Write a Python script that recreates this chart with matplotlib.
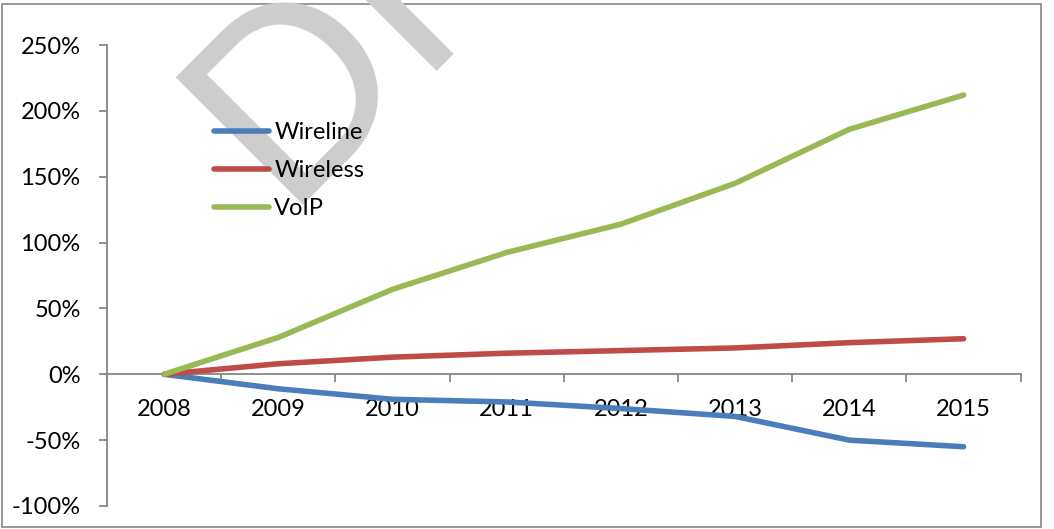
import numpy as np
import matplotlib.pyplot as plt
from matplotlib.patches import Rectangle
from matplotlib.ticker import FuncFormatter, FixedLocator

plt.rcParams['font.family'] = ['Lato', 'DejaVu Sans']

# values (growth vs 2008)
years = ['2008', '2009', '2010', '2011', '2012', '2013', '2014', '2015']
wireline = [0, -0.11, -0.19, -0.21, -0.26, -0.32, -0.50, -0.55]
wireless = [0, 0.08, 0.13, 0.16, 0.18, 0.20, 0.24, 0.27]
voip = [0, 0.28, 0.645, 0.925, 1.14, 1.45, 1.86, 2.12]
y_ticks = [-1.0, -0.5, 0.0, 0.5, 1.0, 1.5, 2.0, 2.5]

COLORS = {
    'Wireline': '#4A7EBB',
    'Wireless': '#BE4B48',
    'VoIP': '#98B954',
}
AXIS_GREY = '#868686'
FS = 17

W, H = 1054, 529
fig = plt.figure(figsize=(W / 100, H / 100), dpi=100)
ax = fig.add_axes([107 / W, 1 - 506 / H, (1020.7 - 107) / W, (506 - 45) / H])
ax.patch.set_alpha(0)

# watermark behind everything
fig.text(280 / W, 1 - 205 / H, 'DRAFT', fontsize=180, color='#cdcdcd',
         rotation=45, rotation_mode='anchor', ha='left', va='baseline',
         zorder=-5)

# chart area border
fig.patches.append(Rectangle((2 / W, 1 - 527 / H), (1041 - 2) / W, (527 - 4) / H,
                             transform=fig.transFigure, fill=False,
                             edgecolor=AXIS_GREY, linewidth=1.2, zorder=-6))

x = np.arange(len(years))
for name, vals in [('Wireline', wireline), ('Wireless', wireless), ('VoIP', voip)]:
    ax.plot(x, vals, color=COLORS[name], linewidth=4.0, label=name,
            solid_capstyle='round', solid_joinstyle='round', zorder=3)

ax.set_xlim(-0.5, len(years) - 0.5)
ax.set_ylim(-1.0, 2.5)

# spines: left axis + horizontal axis crossing at 0
for s in ['top', 'right']:
    ax.spines[s].set_visible(False)
ax.spines['bottom'].set_position(('data', 0))
ax.spines['left'].set_color(AXIS_GREY)
ax.spines['bottom'].set_color(AXIS_GREY)
ax.spines['left'].set_linewidth(1.3)
ax.spines['bottom'].set_linewidth(1.3)

ax.yaxis.set_major_locator(FixedLocator(y_ticks))
ax.yaxis.set_major_formatter(FuncFormatter(lambda v, p: f'{v * 100:.0f}%'))
ax.tick_params(axis='y', direction='out', length=6, width=1.3, color=AXIS_GREY,
               labelsize=FS, pad=13)

# category boundaries get tick marks, labels sit at the centres
ax.xaxis.set_major_locator(FixedLocator(np.arange(-0.5, len(years), 1.0)))
ax.xaxis.set_major_formatter(FuncFormatter(lambda v, p: ''))
ax.xaxis.set_minor_locator(FixedLocator(x))
ax.set_xticklabels(years, minor=True)
ax.tick_params(axis='x', which='major', direction='out', length=6, width=1.3,
               color=AXIS_GREY)
ax.tick_params(axis='x', which='minor', length=0, labelsize=FS, pad=18)

ax.legend(loc='upper left', bbox_to_anchor=(214 / W, 1 - 122 / H),
          bbox_transform=fig.transFigure, frameon=False, fontsize=FS,
          handlelength=2.35, handletextpad=0.2, labelspacing=0.72,
          borderpad=0, borderaxespad=0)

fig.savefig('out.png', dpi=100)
